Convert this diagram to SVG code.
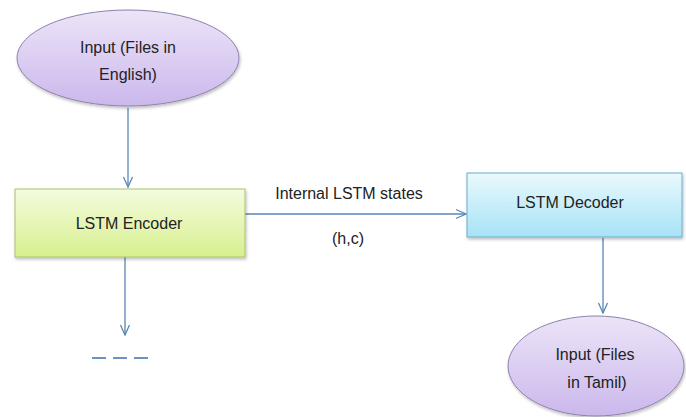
<svg xmlns="http://www.w3.org/2000/svg" width="686" height="417" viewBox="0 0 686 417">
  <defs>
    <linearGradient id="gPurple" x1="0" y1="0" x2="0" y2="1">
      <stop offset="0" stop-color="#ece4f8"/>
      <stop offset="1" stop-color="#cbb8ec"/>
    </linearGradient>
    <linearGradient id="gGreen" x1="0" y1="0" x2="0" y2="1">
      <stop offset="0" stop-color="#f4fbdf"/>
      <stop offset="1" stop-color="#d7f08e"/>
    </linearGradient>
    <linearGradient id="gBlue" x1="0" y1="0" x2="0" y2="1">
      <stop offset="0" stop-color="#eaf9fd"/>
      <stop offset="1" stop-color="#a6e3f6"/>
    </linearGradient>
    <filter id="shadow" x="-10%" y="-10%" width="120%" height="130%">
      <feDropShadow dx="1" dy="2" stdDeviation="1.5" flood-color="#000" flood-opacity="0.25"/>
    </filter>
    <marker id="arrow" viewBox="0 0 12 12" refX="11" refY="6" markerWidth="12" markerHeight="12" markerUnits="userSpaceOnUse" orient="auto">
      <path d="M1,1.5 L11,6 L1,10.5" fill="none" stroke="#5a86b5" stroke-width="1.3"/>
    </marker>
  </defs>
  <style>
    .lbl { font-family: "Liberation Sans", Arial, sans-serif; font-size: 16px; fill: #222222; text-anchor: middle; }
    .conn { stroke: #5a86b5; stroke-width: 1.3; fill: none; }
    .ell { fill: url(#gPurple); stroke: #8e82ad; stroke-width: 1; filter: url(#shadow); }
  </style>
  <rect width="686" height="417" fill="#ffffff"/>

  <g id="connectors">
    <line class="conn" x1="128" y1="108" x2="128" y2="187" marker-end="url(#arrow)"/>
    <line class="conn" x1="245" y1="214" x2="466" y2="214" marker-end="url(#arrow)"/>
    <line class="conn" x1="603" y1="238" x2="603" y2="313" marker-end="url(#arrow)"/>
    <line class="conn" x1="125" y1="257" x2="125" y2="335" marker-end="url(#arrow)"/>
    <line x1="92" y1="358" x2="150" y2="358" stroke="#6a93bf" stroke-width="1.8" stroke-dasharray="14,7"/>
  </g>

  <g id="input-english">
    <ellipse class="ell" cx="128" cy="58" rx="111" ry="48"/>
    <text class="lbl" x="128" y="53">Input (Files in</text>
    <text class="lbl" x="128" y="80">English)</text>
  </g>

  <g id="lstm-encoder">
    <rect x="15" y="189" width="230" height="68" fill="url(#gGreen)" stroke="#a8c36a" stroke-width="1" filter="url(#shadow)"/>
    <text class="lbl" x="129" y="229">LSTM Encoder</text>
  </g>

  <g id="edge-label">
    <text class="lbl" x="349" y="199">Internal LSTM states</text>
    <text class="lbl" x="348" y="244">(h,c)</text>
  </g>

  <g id="lstm-decoder">
    <rect x="467" y="173" width="215" height="64" fill="url(#gBlue)" stroke="#69aecb" stroke-width="1" filter="url(#shadow)"/>
    <text class="lbl" x="570" y="208">LSTM Decoder</text>
  </g>

  <g id="input-tamil">
    <ellipse class="ell" cx="596" cy="366" rx="88" ry="50"/>
    <text class="lbl" x="595" y="360">Input (Files</text>
    <text class="lbl" x="597" y="388">in Tamil)</text>
  </g>
</svg>
